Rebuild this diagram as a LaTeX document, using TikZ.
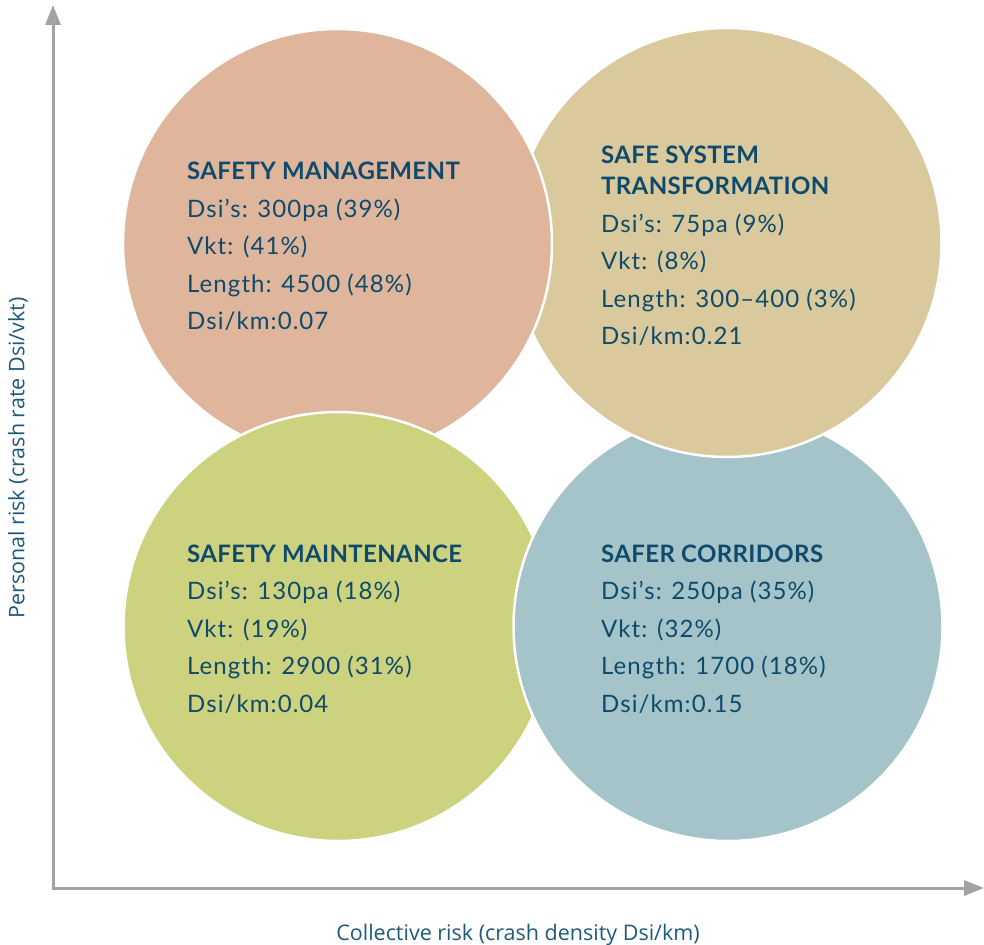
\documentclass[tikz,border=0pt]{standalone}
\usepackage{fontspec}
\setmainfont{Lato}
\newfontfamily\axisfont{Open Sans}
\newfontfamily\headfont[LetterSpace=1.5]{Lato Bold}
\newfontfamily\bodyfont[LetterSpace=4.5]{Lato}
\usetikzlibrary{arrows.meta}
\definecolor{mgmt}{HTML}{DFB59C}
\definecolor{transf}{HTML}{D9C99D}
\definecolor{maint}{HTML}{CDD27E}
\definecolor{corr}{HTML}{A5C4C9}
\definecolor{ink}{HTML}{0E4A6B}
\definecolor{axisink}{HTML}{1E5A7A}
\definecolor{axisgray}{HTML}{A2A2A2}
\begin{document}
\begin{tikzpicture}[x=1pt,y=-1pt,
  blob/.style={circle, minimum size=429pt, inner sep=0pt, draw=white, line width=2.5pt},
  ttl/.style={anchor=base west, inner sep=0pt, text=ink, font=\headfont\fontsize{24}{28}\selectfont},
  txt/.style={anchor=base west, inner sep=0pt, text=ink, font=\bodyfont\fontsize{24}{28}\selectfont},
  axislbl/.style={inner sep=0pt, text=axisink, font=\axisfont\fontsize{21.5}{25}\selectfont},
  axisline/.style={draw=axisgray, line width=3pt, -{Triangle[length=20pt,width=15pt]}}]
\useasboundingbox (0,0) rectangle (984,944);

% axes
\coordinate (origin) at (53,888);
\coordinate (ytop) at (53,5);
\coordinate (xend) at (984,888);
\draw[axisline] (origin) -- (ytop);
\draw[axisline] ([xshift=-1.5pt]origin) -- (xend);

% quadrant circles
\node[blob, fill=transf] (sst) at (727,242.5) {};
\node[blob, fill=mgmt] (sm) at (337.5,243.5) {};
\node[blob, fill=maint] (smt) at (338,626.5) {};
\node[blob, fill=corr] (sc) at (728,626.5) {};
\begin{scope}
  \clip (560,380) rectangle (984,480);
  \node[blob, fill=transf] (sstfront) at (727,242.5) {};
\end{scope}

% safety management
\node[ttl] (sm1) at (187,179) {SAFETY MANAGEMENT};
\node[txt] (sm2) at (187,217) {Dsi’s: 300pa (39\%)};
\node[txt] (sm3) at (187,254.5) {Vkt: (41\%)};
\node[txt] (sm4) at (187,292) {Length: 4500 (48\%)};
\node[txt] (sm5) at (187,329.5) {Dsi/km:0.07};

% safe system transformation
\node[ttl] (sst1) at (601,164) {SAFE SYSTEM};
\node[ttl] (sst2) at (601,194) {TRANSFORMATION};
\node[txt] (sst3) at (601,232) {Dsi’s: 75pa (9\%)};
\node[txt] (sst4) at (601,269.5) {Vkt: (8\%)};
\node[txt] (sst5) at (601,307) {Length: 300–400 (3\%)};
\node[txt] (sst6) at (601,344.5) {Dsi/km:0.21};

% safety maintenance
\node[ttl] (smt1) at (187,562) {SAFETY MAINTENANCE};
\node[txt] (smt2) at (187,599.5) {Dsi’s: 130pa (18\%)};
\node[txt] (smt3) at (187,637) {Vkt: (19\%)};
\node[txt] (smt4) at (187,674.5) {Length: 2900 (31\%)};
\node[txt] (smt5) at (187,712) {Dsi/km:0.04};

% safer corridors
\node[ttl] (sc1) at (601,562) {SAFER CORRIDORS};
\node[txt] (sc2) at (601,599.5) {Dsi’s: 250pa (35\%)};
\node[txt] (sc3) at (601,637) {Vkt: (32\%)};
\node[txt] (sc4) at (601,674.5) {Length: 1700 (18\%)};
\node[txt] (sc5) at (601,712) {Dsi/km:0.15};

% axis titles
\node[axislbl, anchor=base] (xlbl) at (518,940) {Collective risk (crash density Dsi/km)};
\node[axislbl, rotate=90] (ylbl) at (18,458) {Personal risk (crash rate Dsi/vkt)};
\end{tikzpicture}
\end{document}
